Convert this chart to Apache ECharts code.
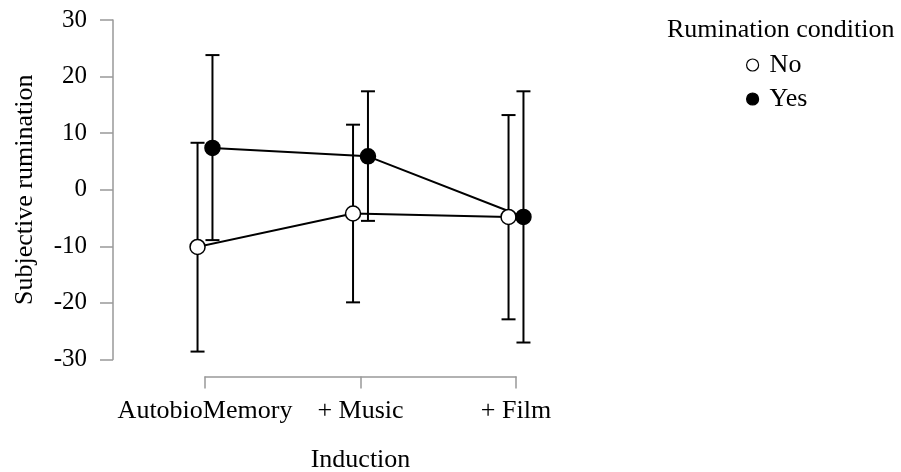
<!DOCTYPE html>
<html>
<head>
<meta charset="utf-8">
<script src="https://cdn.jsdelivr.net/npm/echarts@6/dist/echarts.min.js"></script>
<style>
html,body{margin:0;padding:0;background:#fff;}
#main{width:901px;height:472px;}
</style>
</head>
<body>
<div id="main"></div>
<script>
const categories = ['AutobioMemory', '+ Music', '+ Film'];
const yTicks = [-30, -20, -10, 0, 10, 20, 30];
const noMean = [-10.1, -4.2, -4.8];
const noLower = [-28.6, -19.9, -22.9];
const noUpper = [8.3, 11.5, 13.2];
const yesMean = [7.4, 5.9, -4.8];
const yesLower = [-8.9, -5.5, -27.0];
const yesUpper = [23.8, 17.4, 17.4];

const FONT = 'Liberation Serif';
const dodge = 0.048;
const axisGray = '#999999';

function pts(means, off) {
  return means.map((v, i) => [i + off, v]);
}
function bars(lo, hi, off) {
  return lo.map((l, i) => [i + off, l, hi[i]]);
}

function errRender(params, api) {
  const x = api.value(0);
  const p1 = api.coord([x, api.value(1)]);
  const p2 = api.coord([x, api.value(2)]);
  const hw = 7;
  const style = { stroke: '#000', lineWidth: 2 };
  return {
    type: 'group',
    children: [
      { type: 'line', shape: { x1: p1[0], y1: p1[1], x2: p2[0], y2: p2[1] }, style },
      { type: 'line', shape: { x1: p1[0] - hw, y1: p1[1], x2: p1[0] + hw, y2: p1[1] }, style },
      { type: 'line', shape: { x1: p2[0] - hw, y1: p2[1], x2: p2[0] + hw, y2: p2[1] }, style }
    ]
  };
}

const chart = echarts.init(document.getElementById('main'), null, { renderer: 'canvas' });
chart.setOption({
  animation: false,
  backgroundColor: '#fff',
  textStyle: { fontFamily: FONT },
  title: {
    text: 'Rumination condition',
    left: 662, top: 12,
    textStyle: { fontFamily: FONT, fontSize: 26, fontWeight: 'normal', color: '#000' }
  },
  legend: {
    orient: 'vertical',
    left: 741, top: 47,
    itemGap: 8,
    itemWidth: 12, itemHeight: 12,
    textStyle: { fontFamily: FONT, fontSize: 26, color: '#000', padding: [0, 0, 0, 6] },
    data: [
      { name: 'No', icon: 'circle', itemStyle: { color: '#fff', borderColor: '#000', borderWidth: 1.2 } },
      { name: 'Yes', icon: 'circle', itemStyle: { color: '#000', borderColor: '#000', borderWidth: 1.2 } }
    ]
  },
  grid: { left: 205, width: 311, top: 20, height: 339.5, containLabel: false, outerBoundsMode: 'none' },
  xAxis: {
    type: 'value', min: 0, max: 2, interval: 1,
    offset: 17,
    name: 'Induction', nameLocation: 'middle', nameGap: 71,
    nameTextStyle: { fontFamily: FONT, fontSize: 26, color: '#000' },
    axisLine: { show: true, onZero: false, lineStyle: { color: axisGray, width: 1.5 } },
    axisTick: { show: true, length: 12, lineStyle: { color: axisGray, width: 1.5 } },
    splitLine: { show: false },
    axisLabel: {
      margin: 22, fontFamily: FONT, fontSize: 26, color: '#000',
      formatter: v => categories[Math.round(v)] || ''
    }
  },
  yAxis: {
    type: 'value', min: yTicks[0], max: yTicks[yTicks.length - 1], interval: 10,
    offset: 92,
    name: 'Subjective rumination', nameLocation: 'middle', nameGap: 75,
    nameTextStyle: { fontFamily: FONT, fontSize: 26, color: '#000' },
    axisLine: { show: true, onZero: false, lineStyle: { color: axisGray, width: 1.5 } },
    axisTick: { show: true, length: 13, lineStyle: { color: axisGray, width: 1.5 } },
    splitLine: { show: false },
    axisLabel: { margin: 26, fontFamily: FONT, fontSize: 25, color: '#000' }
  },
  series: [
    { name: 'NoErr', type: 'custom', renderItem: errRender, data: bars(noLower, noUpper, -dodge), z: 2, silent: true },
    { name: 'YesErr', type: 'custom', renderItem: errRender, data: bars(yesLower, yesUpper, dodge), z: 2, silent: true },
    {
      name: 'No', type: 'line', data: pts(noMean, -dodge), clip: false, z: 3,
      symbol: 'circle', symbolSize: 15, showAllSymbol: true,
      lineStyle: { color: '#000', width: 2 },
      itemStyle: { color: '#fff', borderColor: '#000', borderWidth: 1.5 }
    },
    {
      name: 'Yes', type: 'line', data: pts(yesMean, dodge), clip: false, z: 3,
      symbol: 'circle', symbolSize: 15, showAllSymbol: true,
      lineStyle: { color: '#000', width: 2 },
      itemStyle: { color: '#000', borderColor: '#000', borderWidth: 1.5 }
    }
  ]
});
</script>
</body>
</html>
